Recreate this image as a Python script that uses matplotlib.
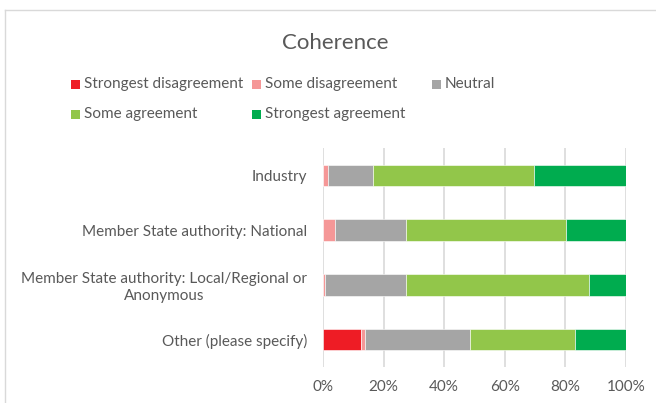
import numpy as np
import matplotlib
matplotlib.use('Agg')
import matplotlib.pyplot as plt
from matplotlib.patches import Rectangle
from matplotlib.lines import Line2D

plt.rcParams['font.family'] = ['Lato', 'DejaVu Sans']
text_color = '#595959'
grid_color = '#d9d9d9'

# Respondent groups, top to bottom
groups = ['Industry',
          'Member State authority: National',
          'Member State authority: Local/Regional or\nAnonymous',
          'Other (please specify)']

# Share of answers per level (%)
strongest_dis = [0.0, 0.0, 0.0, 12.5]
some_dis = [1.5, 4.1, 0.7, 1.5]
neutral = [15.0, 23.4, 26.6, 34.6]
some_agree = [53.3, 52.8, 60.6, 34.6]
strongest_agree = [30.2, 19.7, 12.1, 16.8]

series = [('Strongest disagreement', strongest_dis, '#ee1c25'),
          ('Some disagreement', some_dis, '#f59797'),
          ('Neutral', neutral, '#a5a5a5'),
          ('Some agreement', some_agree, '#92c64a'),
          ('Strongest agreement', strongest_agree, '#00ac4f')]

W, H = 656, 403
fig = plt.figure(figsize=(W / 100, H / 100), dpi=100)
ax = fig.add_axes([323 / W, 1 - 367 / H, (626 - 323) / W, (367 - 148) / H])

y = np.arange(len(groups))
left = np.zeros(len(groups))
for name, vals, col in series:
    vals = np.array(vals)
    ax.barh(y, vals, left=left, height=0.39, color=col, edgecolor='white',
            linewidth=0.4, label=name, zorder=3)
    left += vals

ax.set_xlim(0, 100)
ax.set_ylim(3.5, -0.5)
ax.set_xticks(np.arange(0, 101, 20))
ax.set_xticklabels([f'{v}%' for v in range(0, 101, 20)])
ax.set_yticks(y)
ax.set_yticklabels(groups)
for lbl in ax.get_yticklabels():
    lbl.set_multialignment('center')
    lbl.set_linespacing(1.25)
ax.tick_params(axis='both', length=0, labelsize=11, labelcolor=text_color)
ax.tick_params(axis='y', pad=11.5)
ax.tick_params(axis='x', pad=9.5)
ax.grid(axis='x', color=grid_color, linewidth=1.2, zorder=0)
for s in ax.spines.values():
    s.set_visible(False)

# chart frame
fig.add_artist(Line2D([4.5 / W, 1.0], [1 - 9.5 / H] * 2, color=grid_color, lw=1))
fig.add_artist(Line2D([4.5 / W] * 2, [0, 1 - 9.5 / H], color=grid_color, lw=1))

fig.text(335 / W, 1 - 43 / H, 'Coherence', ha='center', va='center',
         fontsize=16, color=text_color)

# legend, two rows
leg_pos = [(71, 84), (252, 84), (432, 84), (71, 114), (252, 114)]
for (name, vals, col), (lx, ly) in zip(series, leg_pos):
    fig.add_artist(Rectangle((lx / W, 1 - (ly + 4.5) / H), 9 / W, 9 / H,
                             facecolor=col, edgecolor='none'))
    fig.text((lx + 13) / W, 1 - ly / H, name, ha='left', va='center',
             fontsize=11, color=text_color)

fig.savefig('out.png', dpi=100)
